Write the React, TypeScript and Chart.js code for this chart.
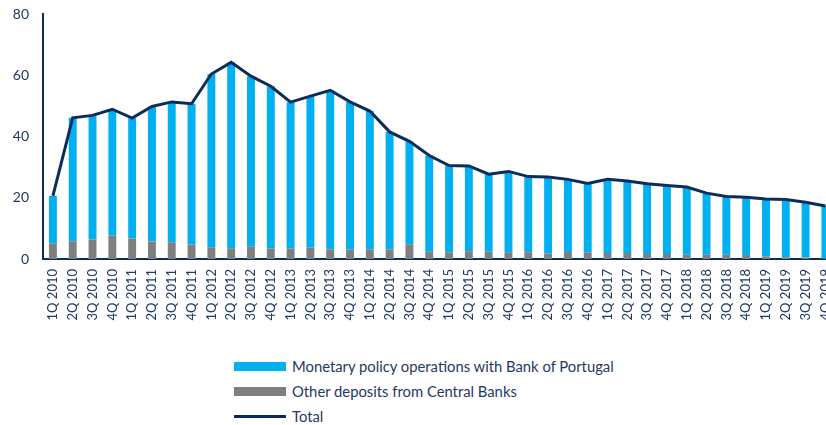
import React, { useEffect, useRef } from "react";
import { Chart, registerables } from "chart.js";

Chart.register(...registerables);

const quarters = [
  "1Q 2010", "2Q 2010", "3Q 2010", "4Q 2010",
  "1Q 2011", "2Q 2011", "3Q 2011", "4Q 2011",
  "1Q 2012", "2Q 2012", "3Q 2012", "4Q 2012",
  "1Q 2013", "2Q 2013", "3Q 2013", "4Q 2013",
  "1Q 2014", "2Q 2014", "3Q 2014", "4Q 2014",
  "1Q 2015", "2Q 2015", "3Q 2015", "4Q 2015",
  "1Q 2016", "2Q 2016", "3Q 2016", "4Q 2016",
  "1Q 2017", "2Q 2017", "3Q 2017", "4Q 2017",
  "1Q 2018", "2Q 2018", "3Q 2018", "4Q 2018",
  "1Q 2019", "2Q 2019", "3Q 2019", "4Q 2019",
];

const monetaryPolicy = [
  15.6, 40.3, 40.5, 41.2, 39.3, 44.1, 45.8, 46.0,
  56.6, 60.7, 55.7, 53.0, 47.8, 49.5, 52.0, 48.2,
  45.2, 38.4, 33.6, 31.4, 28.3, 27.9, 25.3, 26.4,
  24.7, 25.0, 23.7, 22.6, 24.0, 23.5, 23.0, 22.4,
  22.1, 20.1, 19.0, 18.9, 18.8, 18.8, 18.0, 17.1,
];

const otherDeposits = [
  5.0, 5.8, 6.4, 7.7, 6.7, 5.7, 5.5, 4.7,
  3.8, 3.5, 4.0, 3.4, 3.4, 3.7, 3.1, 3.1,
  3.1, 3.1, 4.8, 2.4, 2.2, 2.5, 2.4, 2.2,
  2.2, 1.8, 2.3, 2.1, 2.0, 2.0, 1.6, 1.6,
  1.4, 1.4, 1.4, 1.3, 0.8, 0.6, 0.5, 0.2,
];

const total = [
  20.6, 46.1, 46.9, 48.9, 46.0, 49.8, 51.3, 50.7,
  60.4, 64.2, 59.7, 56.4, 51.2, 53.2, 55.1, 51.3,
  48.3, 41.5, 38.4, 33.8, 30.5, 30.4, 27.7, 28.6,
  26.9, 26.8, 26.0, 24.7, 26.0, 25.5, 24.6, 24.0,
  23.5, 21.5, 20.4, 20.2, 19.6, 19.4, 18.5, 17.3,
];

const yTicks = [0, 20, 40, 60, 80];

const BLUE = "#00B0F0";
const GRAY = "#7F7F7F";
const NAVY = "#0B2C5A";
const TEXT = "#1F3864";
const FONT = "Lato, 'Liberation Sans', sans-serif";

const CANVAS_W = 851;
const CANVAS_H = 340;

export default function App() {
  const ref = useRef<HTMLCanvasElement | null>(null);

  useEffect(() => {
    if (!ref.current) return;
    const chart = new Chart(ref.current, {
      type: "bar",
      data: {
        labels: quarters,
        datasets: [
          {
            type: "line",
            label: "Total",
            data: total,
            borderColor: NAVY,
            backgroundColor: NAVY,
            borderWidth: 3,
            pointRadius: 0,
            tension: 0,
            stack: "total",
            order: 0,
          } as any,
          {
            label: "Other deposits from Central Banks",
            data: otherDeposits,
            backgroundColor: GRAY,
            stack: "bars",
            order: 1,
            barPercentage: 0.4,
            categoryPercentage: 1.0,
          },
          {
            label: "Monetary policy operations with Bank of Portugal",
            data: monetaryPolicy,
            backgroundColor: BLUE,
            stack: "bars",
            order: 1,
            barPercentage: 0.4,
            categoryPercentage: 1.0,
          },
        ],
      },
      options: {
        animation: false,
        responsive: false,
        maintainAspectRatio: false,
        layout: { padding: { top: 14, right: 0, left: 0, bottom: 0 } },
        plugins: {
          legend: { display: false },
          tooltip: { enabled: false },
        },
        scales: {
          x: {
            stacked: true,
            grid: { display: false, drawTicks: false },
            border: { display: true, color: NAVY, width: 2 },
            ticks: {
              color: TEXT,
              font: { family: FONT, size: 13 },
              minRotation: 90,
              maxRotation: 90,
              autoSkip: false,
              padding: 10,
            },
            afterFit: (scale: any) => {
              scale.height = 81;
            },
          },
          y: {
            stacked: true,
            min: 0,
            max: 80,
            grid: { display: false, drawTicks: false },
            border: { display: true, color: NAVY, width: 2 },
            afterBuildTicks: (scale: any) => {
              scale.ticks = yTicks.map((v) => ({ value: v }));
            },
            ticks: {
              color: TEXT,
              font: { family: FONT, size: 14 },
              padding: 14,
            },
            afterFit: (scale: any) => {
              scale.width = 43;
              scale.paddingTop = 0;
              scale.paddingBottom = 0;
            },
          },
        },
      },
    });
    return () => chart.destroy();
  }, []);

  const legendItems = [
    { label: "Monetary policy operations with Bank of Portugal", kind: "box", color: BLUE, top: 357 },
    { label: "Other deposits from Central Banks", kind: "box", color: GRAY, top: 382 },
    { label: "Total", kind: "line", color: NAVY, top: 407 },
  ];

  return (
    <div
      style={{
        position: "fixed",
        left: 0,
        top: 0,
        width: 826,
        height: 425,
        overflow: "hidden",
        background: "#fff",
      }}
    >
      <div style={{ position: "absolute", left: 0, top: 0, width: CANVAS_W, height: CANVAS_H }}>
        <canvas ref={ref} width={CANVAS_W} height={CANVAS_H} style={{ width: CANVAS_W, height: CANVAS_H }} />
      </div>
      {legendItems.map((it) => (
        <div
          key={it.label}
          style={{
            position: "absolute",
            left: 234,
            top: it.top,
            height: 18,
            display: "flex",
            alignItems: "center",
            fontFamily: FONT,
            fontSize: 14.8,
            color: TEXT,
            whiteSpace: "nowrap",
          }}
        >
          <span
            style={{
              display: "inline-block",
              width: 52,
              height: it.kind === "box" ? 9 : 3,
              background: it.color,
              marginRight: 6,
            }}
          />
          <span>{it.label}</span>
        </div>
      ))}
    </div>
  );
}
